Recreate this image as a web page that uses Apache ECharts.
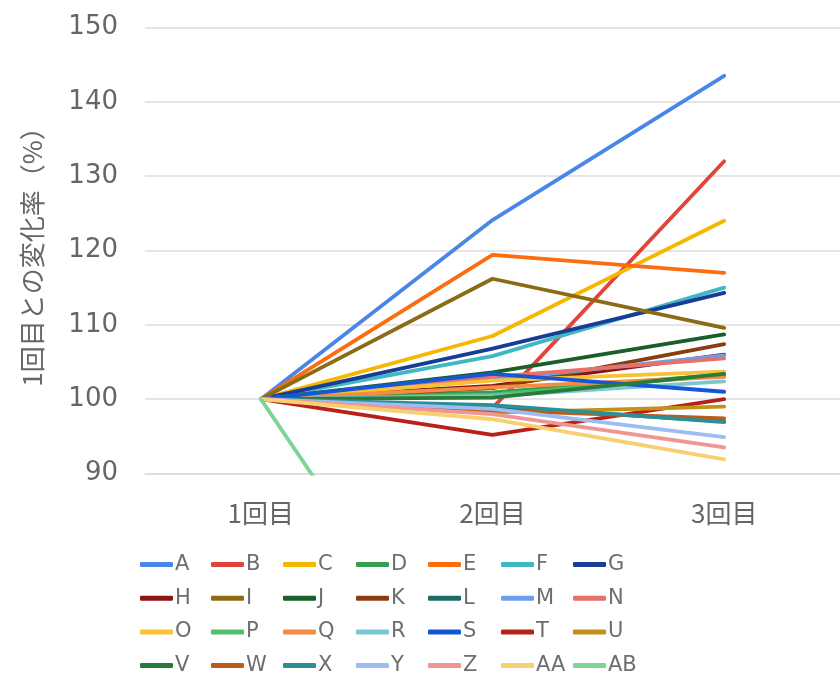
<!DOCTYPE html>
<html>
<head>
<meta charset="utf-8">
<script src="https://cdn.jsdelivr.net/npm/echarts@6/dist/echarts.min.js"></script>
<style>
  html, body { margin: 0; padding: 0; background: #ffffff; }
  #chart { width: 840px; height: 673px; }
</style>
</head>
<body>
<div id="chart"></div>
<script>
// Rounds (x-axis categories) and y-axis range
const rounds = ['1回目', '2回目', '3回目'];
const yMin = 90;
const yMax = 150;
const yStep = 10;
const yTitle = '1回目との変化率（%）';

// Change rate relative to the 1st round (%), one array per subject
const A  = [100, 124.1, 143.5];
const B  = [null, 98.8, 132.0];
const C  = [100, 108.5, 124.0];
const D  = [100, 100.9, 103.3];
const E  = [100, 119.4, 117.0];
const F  = [100, 105.8, 115.0];
const G  = [100, 106.8, 114.3];
const H  = [100, 101.8, 106.0];
const I  = [100, 116.2, 109.6];
const J  = [100, 103.6, 108.7];
const K  = [100, 101.5, 107.4];
const L  = [100, 99.0, 97.0];
const M  = [100, 102.6, 105.9];
const N  = [100, 103.0, 105.5];
const O  = [100, 102.5, 103.7];
const P  = [100, 100.6, 103.2];
const Q  = [100, 101.6, 103.0];
const R  = [100, 100.4, 102.4];
const S  = [100, 103.4, 101.0];
const T  = [100, 95.2, 100.0];
const U  = [100, 98.2, 99.0];
const V  = [100, 100.2, 103.4];
const W  = [100, 98.5, 97.4];
const X  = [100, 99.2, 96.9];
const Y  = [100, 98.7, 94.9];
const Z  = [100, 98.0, 93.5];
const AA = [100, 97.3, 91.9];
const AB = [100, 54.0, 52.0];

const names = ['A','B','C','D','E','F','G','H','I','J','K','L','M','N',
               'O','P','Q','R','S','T','U','V','W','X','Y','Z','AA','AB'];
const values = [A,B,C,D,E,F,G,H,I,J,K,L,M,N,O,P,Q,R,S,T,U,V,W,X,Y,Z,AA,AB];
const colors = ['#4a86e8','#e0443a','#f5b800','#34a04f','#fa6e0f','#3fb8c4','#173d96',
                '#8a1512','#8c6b16','#1a5e2a','#8b3d10','#1d6b66','#6d9eeb','#e8716a',
                '#f7c236','#52bd6a','#f58c45','#7ac8cf','#1558d6','#b82018','#c29216',
                '#2a7a3a','#bf5b1a','#2d8f95','#9dbcf2','#ef9593','#f8d070','#7dd494'];

const series = names.map((n, i) => ({
  name: n,
  type: 'line',
  data: values[i],
  showSymbol: false,
  symbol: 'none',
  clip: true,
  color: colors[i],
  lineStyle: { width: 3.8, color: colors[i], cap: 'round', join: 'round' },
  emphasis: { disabled: true }
}));

// Legend laid out as 7 fixed-width columns of 4 rows
const colLeft = [140, 211, 283, 356, 428, 501, 573];
const legends = colLeft.map((x, c) => ({
  orient: 'vertical',
  left: x,
  top: 554,
  height: 140,
  itemGap: 12.7,
  itemWidth: 33,
  itemHeight: 5,
  icon: 'roundRect',
  selectedMode: false,
  padding: 0,
  data: [0, 1, 2, 3].map(r => names[r * 7 + c]),
  textStyle: {
    fontFamily: 'DejaVu Sans',
    fontSize: 21,
    lineHeight: 21,
    color: '#6e6e6e',
    padding: [0, 0, 0, -3]
  }
}));

const chart = echarts.init(document.getElementById('chart'), null, { renderer: 'canvas' });
chart.setOption({
  backgroundColor: '#ffffff',
  animation: false,
  grid: { left: 145, right: -8, top: 27.5, bottom: 673 - 473.5, containLabel: false },
  legend: legends,
  xAxis: {
    type: 'category',
    data: rounds,
    boundaryGap: true,
    axisLine: { show: true, lineStyle: { color: '#dcdcdc', width: 1.5 } },
    axisTick: { show: false },
    axisLabel: {
      margin: 27,
      fontFamily: 'Noto Sans CJK JP',
      fontSize: 26,
      color: '#666666'
    },
    splitLine: { show: false }
  },
  yAxis: {
    type: 'value',
    min: yMin,
    max: yMax,
    interval: yStep,
    name: yTitle,
    nameLocation: 'middle',
    nameGap: 100,
    nameRotate: 90,
    nameTextStyle: {
      fontFamily: 'Noto Sans CJK JP',
      fontSize: 26,
      color: '#666666'
    },
    axisLine: { show: false },
    axisTick: { show: false },
    axisLabel: {
      margin: 27,
      fontFamily: 'DejaVu Sans',
      fontSize: 26,
      color: '#666666'
    },
    splitLine: { show: true, lineStyle: { color: '#dcdcdc', width: 1.5 } }
  },
  series: series
});
</script>
</body>
</html>
